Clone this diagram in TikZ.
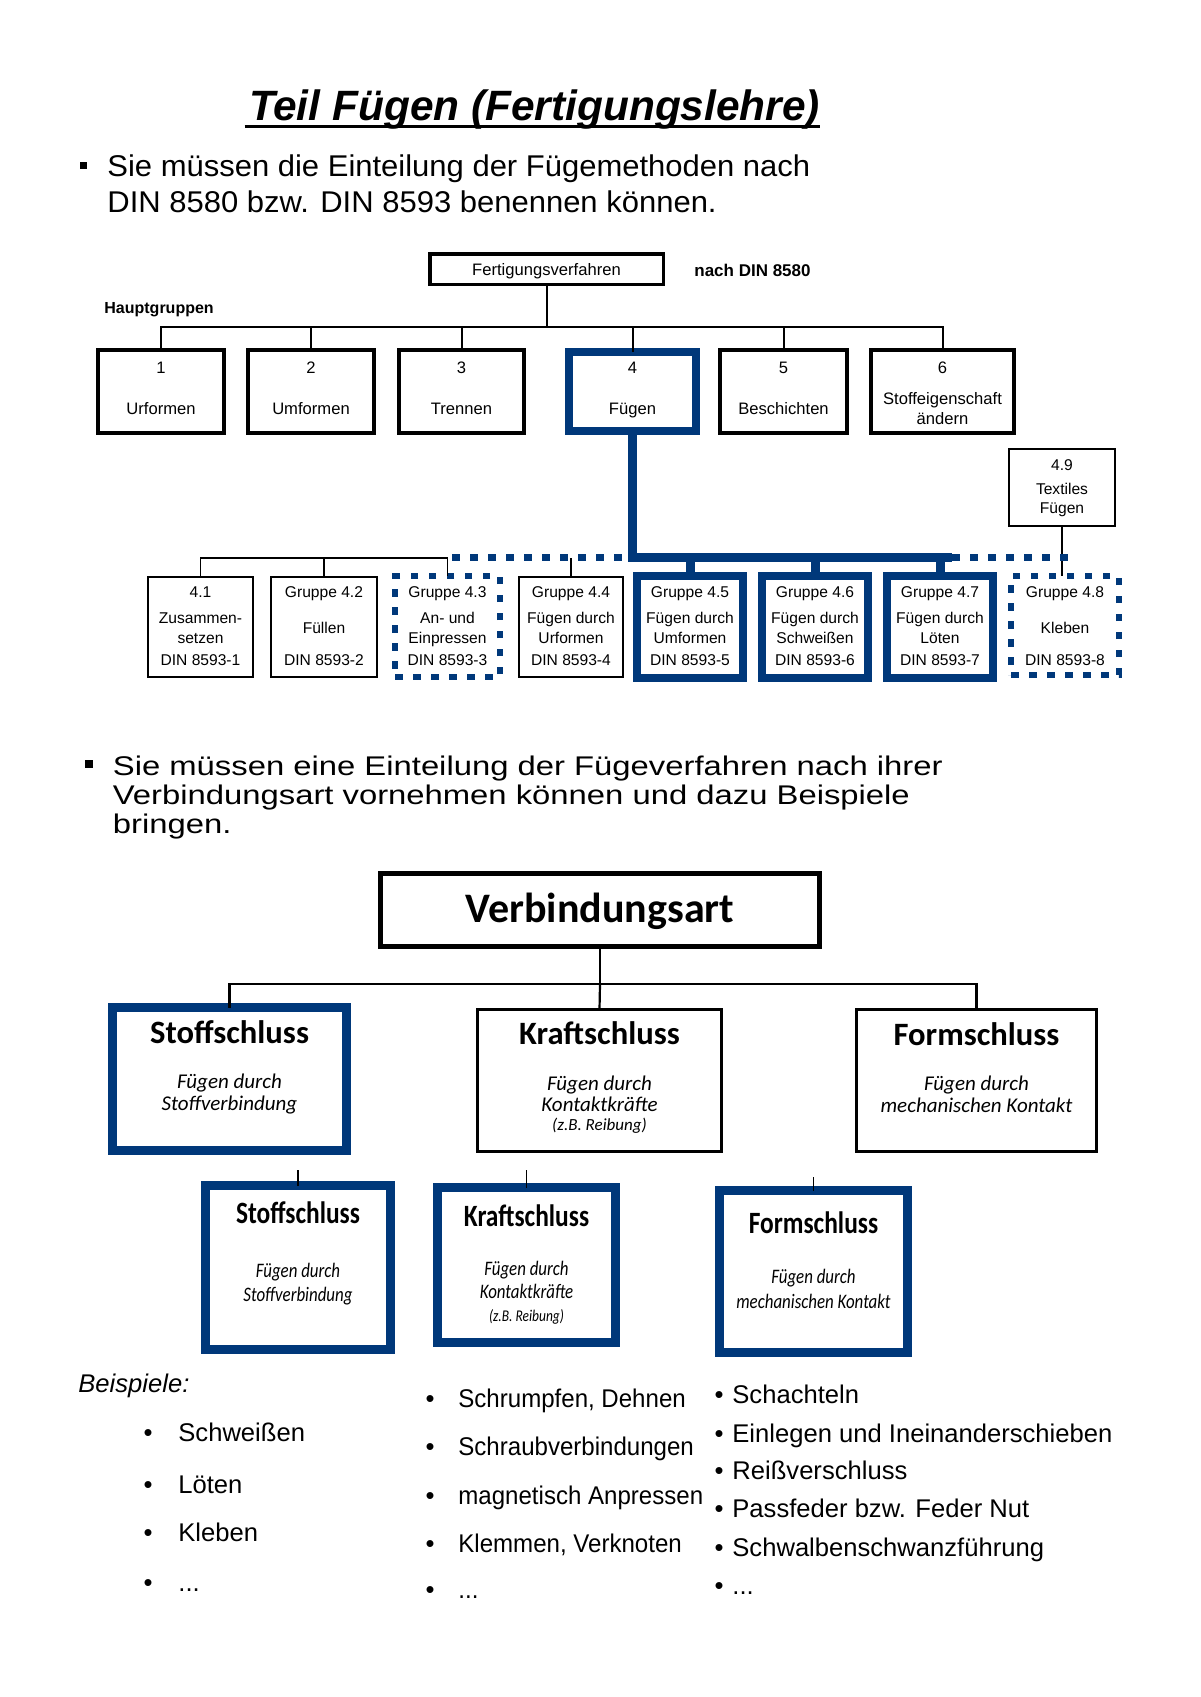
\documentclass[tikz,border=0pt]{standalone}
\usepackage{fontspec}
\setmainfont{Liberation Sans}
\newfontfamily\calfont{Carlito}
\newfontfamily\calcond[FakeStretch=0.82]{Carlito}
\newfontfamily\arwide[FakeStretch=1.215]{Liberation Sans}
\newfontfamily\arbul[FakeStretch=1.033]{Liberation Sans}
\newfontfamily\arnarrow[FakeStretch=0.94]{Liberation Sans}
\usetikzlibrary{fit}
\definecolor{fblue}{RGB}{0,56,122}
\newcommand\mlines[4]{\foreach \yy/\tx [count=\kk] in {#4}{\node[#1] (#2-\kk) at (#3,\yy) {\tx};}}
\newcommand\exitem[5]{\node[ex,anchor=base] (#1b) at (#2,#4) {\textbullet}; \node[ex,anchor=base west] (#1t) at (#3,#4) {#5};}
\newcommand\exitemN[5]{\node[ex,anchor=base] (#1b) at (#2,#4) {\textbullet}; \node[exn,anchor=base west] (#1t) at (#3,#4) {#5};}
\tikzset{
  fitbox/.style={inner sep=0pt, outer sep=0pt},
  blkbox/.style={fitbox, draw=black, line width=2pt},
  fvbox/.style={fitbox, draw=black, line width=1.75pt},
  bluebox/.style={fitbox, draw=fblue, line width=4pt},
  bluebox2/.style={fitbox, draw=fblue, line width=4.5pt},
  thinbox/.style={fitbox, draw=black, line width=0.75pt},
  dotbox/.style={fitbox, draw=fblue, line width=3.25pt, dash pattern=on 3.75pt off 5.25pt},
  conn/.style={draw=black, line width=1pt},
  thinconn/.style={draw=black, line width=0.7pt},
  bluecon/.style={draw=fblue, line width=4.5pt},
  dotcon/.style={draw=fblue, line width=3.5pt, dash pattern=on 3.75pt off 5.25pt},
  mt/.style={inner sep=0pt, yshift=-1pt, font=\fontsize{8.3pt}{10pt}\selectfont, text height=5.8pt, text depth=1.7pt},
  st/.style={inner sep=0pt, yshift=-1pt, font=\fontsize{7.8pt}{9pt}\selectfont, text height=5.5pt, text depth=1.6pt},
  r1t/.style={inner sep=0pt, font=\calfont\fontsize{16.3pt}{19pt}\selectfont\bfseries, text height=10.6pt, text depth=0pt},
  r1s/.style={inner sep=0pt, font=\calfont\fontsize{10.5pt}{12pt}\selectfont\itshape, text height=7.3pt, text depth=2.1pt},
  r1z/.style={inner sep=0pt, font=\calfont\fontsize{8.5pt}{10pt}\selectfont\itshape, text height=6pt, text depth=1.7pt},
  r2t/.style={inner sep=0pt, font=\calcond\fontsize{15.5pt}{18pt}\selectfont\bfseries, text height=10.1pt, text depth=0pt},
  r2s/.style={inner sep=0pt, font=\calcond\fontsize{10.3pt}{12pt}\selectfont\itshape, text height=7.2pt, text depth=2.1pt},
  r2z/.style={inner sep=0pt, font=\calcond\fontsize{8.2pt}{10pt}\selectfont\itshape, text height=5.7pt, text depth=1.6pt},
  ex/.style={inner sep=0pt, font=\fontsize{12.8pt}{15pt}\selectfont},
  exn/.style={inner sep=0pt, font=\arnarrow\fontsize{12.8pt}{15pt}\selectfont},
}
\begin{document}
\begin{tikzpicture}[x=0.5pt, y=-0.5pt]
\fill[white] (0,0) rectangle (1200,1697);
\useasboundingbox (0,0) rectangle (1200,1697);

% ---------- title ----------
\node[anchor=base, inner sep=0pt, font=\fontsize{21.2pt}{25pt}\selectfont\bfseries\itshape] (title) at (534.5,120) {Teil Fügen (Fertigungslehre)};
\draw[line width=1.5pt] ([yshift=-3.25pt,xshift=-2pt]title.base west) -- ([yshift=-3.25pt]title.base east);

% ---------- bullet 1 ----------
\node[fill=black, minimum size=3.5pt, inner sep=0pt] (sq1) at (83.5,165) {};
\node[anchor=base west, inner sep=0pt, font=\arbul\fontsize{15pt}{18pt}\selectfont] (bA1) at (107,176) {Sie müssen die Einteilung der Fügemethoden nach};
\node[anchor=base west, inner sep=0pt, font=\arbul\fontsize{15pt}{18pt}\selectfont] (bA2) at (107,212) {DIN 8580 bzw. DIN 8593 benennen können.};

% ---------- chart 1 ----------
\node[fvbox, fit={(429.75,253.75)(663.25,284.25)}] (fv) {};
\node[mt] (fvt) at (fv.center) {Fertigungsverfahren};
\node[anchor=west, inner sep=0pt, yshift=-1pt, font=\fontsize{8.5pt}{10pt}\selectfont\bfseries, text height=6pt, text depth=1.7pt] (din) at (694,270) {nach DIN 8580};
\node[anchor=west, inner sep=0pt, yshift=-0.5pt, font=\fontsize{8pt}{10pt}\selectfont\bfseries, text height=5.6pt, text depth=1.6pt] (hg) at (104,308) {Hauptgruppen};

\node[blkbox, fit={(98,350)(224,433)}] (g1) {};
\node[blkbox, fit={(248,350)(374,433)}] (g2) {};
\node[blkbox, fit={(399,350)(524,433)}] (g3) {};
\node[bluebox, fit={(569,352)(696,431)}] (g4) {};
\node[blkbox, fit={(720,350)(847,433)}] (g5) {};
\node[blkbox, fit={(871,350)(1014,433)}] (g6) {};

\mlines{mt}{g1t}{161}{367/1, 408/Urformen}
\mlines{mt}{g2t}{311}{367/2, 408/Umformen}
\mlines{mt}{g3t}{461.5}{367/3, 408/Trennen}
\mlines{mt}{g4t}{632.5}{367/4, 408/Fügen}
\mlines{mt}{g5t}{783.5}{367/5, 408/Beschichten}
\mlines{mt}{g6t}{942.5}{367/6, 398/Stoffeigenschaft, 418/ändern}

\coordinate (hj) at (546.5,327);
\draw[conn] (fv.south) -- (hj);
\draw[conn] (g1.north) |- (hj) -| (g6.north);
\foreach \g in {g2,g3,g4,g5} \draw[conn] (\g.north) -- (\g.north |- hj);

% sub groups
\node[thinbox, fit={(148,577)(253,677)}] (s41) {};
\node[thinbox, fit={(271,577)(377,677)}] (s42) {};
\node[dotbox, fit={(395,576)(500,677)}] (s43) {};
\node[thinbox, fit={(519,577)(623,677)}] (s44) {};
\node[bluebox, fit={(637,576)(743,678)}] (s45) {};
\node[bluebox, fit={(762,576)(868,678)}] (s46) {};
\node[bluebox, fit={(887,576)(993,678)}] (s47) {};
\node[dotbox, fit={(1011,576)(1119,675)}] (s48) {};
\node[thinbox, fit={(1009,449)(1115,526)}] (s49) {};

\mlines{st}{s41t}{200.5}{592/4.1, 618/Zusammen-, 638/setzen, 660/DIN 8593-1}
\mlines{st}{s42t}{324}{592/Gruppe 4.2, 628/Füllen, 660/DIN 8593-2}
\mlines{st}{s43t}{447.5}{592/Gruppe 4.3, 618/An- und, 638/Einpressen, 660/DIN 8593-3}
\mlines{st}{s44t}{571}{592/Gruppe 4.4, 618/Fügen durch, 638/Urformen, 660/DIN 8593-4}
\mlines{st}{s45t}{690}{592/Gruppe 4.5, 618/Fügen durch, 638/Umformen, 660/DIN 8593-5}
\mlines{st}{s46t}{815}{592/Gruppe 4.6, 618/Fügen durch, 638/Schweißen, 660/DIN 8593-6}
\mlines{st}{s47t}{940}{592/Gruppe 4.7, 618/Fügen durch, 638/Löten, 660/DIN 8593-7}
\mlines{st}{s48t}{1065}{592/Gruppe 4.8, 628/Kleben, 660/DIN 8593-8}
\mlines{st}{s49t}{1062}{465/4.9, 489/Textiles, 508/Fügen}

% connectors of sub groups
\coordinate (tl) at (447.5,558);
\coordinate (bc) at (632.5,557);
\coordinate (be) at (952,557);
\coordinate (dl) at (452,557);
\coordinate (dr) at (628,557);
\coordinate (de) at (1068,557);
\draw[thinconn] (s41.north) |- (tl);
\foreach \s in {s42,s43} \draw[thinconn] (\s.north) -- (\s.north |- tl);
\draw[thinconn] (s44.north) -- (s44.north |- tl);
\draw[thinconn] (s49.south) -- (s49.south |- s48.north);
\draw[dotcon] (dl) -- (dr);
\draw[dotcon] (be) -- (de);
\draw[bluecon] (g4.south) |- (be);
\foreach \s in {s45,s46,s47} \draw[bluecon] (\s.north) -- (\s.north |- bc);

% ---------- bullet 2 ----------
\node[fill=black, minimum size=4pt, inner sep=0pt] (sq2) at (89,764) {};
\node[anchor=base west, inner sep=0pt, font=\arwide\fontsize{13.5pt}{16pt}\selectfont] (bB1) at (112.5,775) {Sie müssen eine Einteilung der Fügeverfahren nach ihrer};
\node[anchor=base west, inner sep=0pt, font=\arwide\fontsize{13.5pt}{16pt}\selectfont] (bB2) at (112.5,804) {Verbindungsart vornehmen können und dazu Beispiele};
\node[anchor=base west, inner sep=0pt, font=\arwide\fontsize{13.5pt}{16pt}\selectfont] (bB3) at (112.5,833) {bringen.};

% ---------- chart 2 ----------
\node[fitbox, draw=black, line width=2.5pt, fit={(380.5,873.5)(819.5,946.5)}] (va) {};
\node[inner sep=0pt, font=\calfont\fontsize{21pt}{25pt}\selectfont\bfseries, text height=13.6pt, text depth=0pt] (vat) at (600,909) {Verbindungsart};

\node[bluebox2, fit={(112.5,1007.5)(346.5,1150.5)}] (r1s) {};
\node[fitbox, draw=black, line width=1.5pt, fit={(477.5,1009.5)(721.5,1151.5)}] (r1k) {};
\node[fitbox, draw=black, line width=1.5pt, fit={(856.5,1009.5)(1096.5,1151.5)}] (r1f) {};

\coordinate (vj) at (600,984);
\draw[line width=1.1pt] (va.south) -- (vj);
\draw[line width=1.1pt] (r1s.north) |- (vj) -| (r1f.north);
\draw[line width=1.1pt] (vj) -- (r1k.north);

\node[r1t] (r1st) at (229.5,1033) {Stoffschluss};
\node[r1s] (r1s1) at (229.5,1083) {Fügen durch};
\node[r1s] (r1s2) at (229.5,1105) {Stoffverbindung};
\node[r1t] (r1kt) at (599.5,1034) {Kraftschluss};
\node[r1s] (r1k1) at (599.5,1085) {Fügen durch};
\node[r1s] (r1k2) at (599.5,1106) {Kontaktkräfte};
\node[r1z] (r1k3) at (599.5,1126) {(z.B. Reibung)};
\node[r1t] (r1ft) at (976.5,1035) {Formschluss};
\node[r1s] (r1f1) at (976.5,1085) {Fügen durch};
\node[r1s] (r1f2) at (976.5,1107) {mechanischen Kontakt};

\node[bluebox2, fit={(205.5,1185.5)(390.5,1349.5)}] (r2s) {};
\node[bluebox2, fit={(437.5,1187.5)(615.5,1342.5)}] (r2k) {};
\node[bluebox2, fit={(719.5,1190.5)(907.5,1352.5)}] (r2f) {};
\coordinate (k2s) at (298,1170);
\coordinate (k2k) at (526.5,1170);
\coordinate (k2f) at (813.5,1177);
\draw[thinconn] (k2s) -- (r2s.north);
\draw[thinconn] (k2k) -- (r2k.north);
\draw[thinconn] (k2f) -- (r2f.north);

\node[r2t] (r2st) at (298,1213) {Stoffschluss};
\node[r2s] (r2s1) at (298,1272) {Fügen durch};
\node[r2s] (r2s2) at (298,1296) {Stoffverbindung};
\node[r2t] (r2kt) at (526.5,1216) {Kraftschluss};
\node[r2s] (r2k1) at (526.5,1270) {Fügen durch};
\node[r2s] (r2k2) at (526.5,1293) {Kontaktkräfte};
\node[r2z] (r2k3) at (526.5,1317) {(z.B. Reibung)};
\node[r2t] (r2ft) at (813.5,1223) {Formschluss};
\node[r2s] (r2f1) at (813.5,1278) {Fügen durch};
\node[r2s] (r2f2) at (813.5,1303) {mechanischen Kontakt};

% ---------- examples ----------
\node[ex, anchor=base west] (bsp) at (78,1392) {\itshape Beispiele:};
\exitem{a1}{148}{178}{1441}{Schweißen}
\exitem{a2}{148}{178}{1493}{Löten}
\exitem{a3}{148}{178}{1541}{Kleben}
\exitem{a4}{148}{178}{1591}{...}
\exitemN{b1}{430}{458}{1407}{Schrumpfen, Dehnen}
\exitemN{b2}{430}{458}{1455}{Schraubverbindungen}
\exitemN{b3}{430}{458}{1504}{magnetisch Anpressen}
\exitemN{b4}{430}{458}{1552}{Klemmen, Verknoten}
\exitemN{b5}{430}{458}{1598}{...}
\exitem{c1}{719}{732}{1403}{Schachteln}
\exitem{c2}{719}{732}{1442}{Einlegen und Ineinanderschieben}
\exitem{c3}{719}{732}{1479}{Reißverschluss}
\exitem{c4}{719}{732}{1517}{Passfeder bzw. Feder Nut}
\exitem{c5}{719}{732}{1556}{Schwalbenschwanzführung}
\exitem{c6}{719}{732}{1594}{...}
\end{tikzpicture}
\end{document}
